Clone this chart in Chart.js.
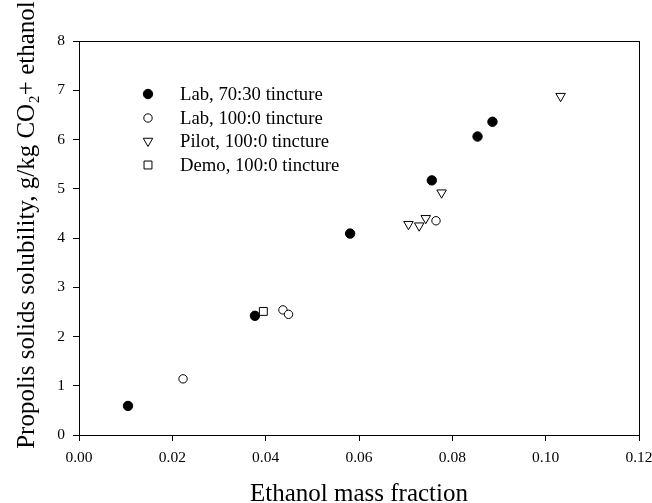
<!DOCTYPE html>
<html>
<head>
<meta charset="utf-8">
<script src="https://cdn.jsdelivr.net/npm/chart.js@4/dist/chart.umd.min.js"></script>
<style>
  html, body { margin: 0; padding: 0; background: #fff; }
  canvas { display: block; }
</style>
</head>
<body>
<canvas id="chart" width="652" height="503"></canvas>
<script>
'use strict';

// values
var lab7030X = [0.0105, 0.0377, 0.0581, 0.0756, 0.0854, 0.0886];
var lab7030Y = [0.59, 2.42, 4.09, 5.17, 6.06, 6.36];

var lab1000X = [0.0223, 0.0437, 0.0449, 0.0765];
var lab1000Y = [1.14, 2.54, 2.45, 4.35];

var pilotX = [0.0706, 0.0729, 0.0743, 0.0777, 0.1032];
var pilotY = [4.28, 4.25, 4.40, 4.92, 6.88];

var demoX = [0.0395];
var demoY = [2.51];

var seriesNames = ['Lab, 70:30 tincture', 'Lab, 100:0 tincture', 'Pilot, 100:0 tincture', 'Demo, 100:0 tincture'];

var xTitle = 'Ethanol mass fraction';
var yTitle = 'Propolis solids solubility, g/kg CO\u2082+ ethanol';

var SERIF = '"Liberation Serif", "Times New Roman", serif';

function toPoints(xs, ys) {
  var pts = [];
  for (var i = 0; i < xs.length; i++) {
    pts.push({x: xs[i], y: ys[i]});
  }
  return pts;
}

var datasets = [
  {label: seriesNames[0], data: toPoints(lab7030X, lab7030Y), pointStyle: 'circle', pointRadius: 4.7,
   backgroundColor: '#000', borderColor: '#000', pointBorderWidth: 1, order: 3},
  {label: seriesNames[1], data: toPoints(lab1000X, lab1000Y), pointStyle: 'circle', pointRadius: 4.2,
   backgroundColor: '#fff', borderColor: '#000', pointBorderWidth: 1, order: 2},
  {label: seriesNames[2], data: toPoints(pilotX, pilotY), pointStyle: 'triangle', pointRotation: 180, pointRadius: 5.5,
   backgroundColor: '#fff', borderColor: '#000', pointBorderWidth: 1, order: 1},
  {label: seriesNames[3], data: toPoints(demoX, demoY), pointStyle: 'rect', pointRadius: 5.6,
   backgroundColor: '#fff', borderColor: '#000', pointBorderWidth: 1, order: 0}
];

// frame, axis titles and the in-plot legend
var decorPlugin = {
  id: 'decor',
  afterDraw: function(chart) {
    var ctx = chart.ctx;
    var area = chart.chartArea;
    ctx.save();

    // box round the plot
    ctx.strokeStyle = '#000';
    ctx.lineWidth = 1;
    ctx.strokeRect(Math.round(area.left) + 0.5, Math.round(area.top) + 0.5,
      Math.round(area.right - area.left), Math.round(area.bottom - area.top));

    ctx.fillStyle = '#000';
    ctx.font = '25px ' + SERIF;
    ctx.textAlign = 'center';
    ctx.textBaseline = 'middle';
    ctx.fillText(xTitle, (area.left + area.right) / 2, 494);

    ctx.save();
    ctx.translate(27, 225);
    ctx.rotate(-Math.PI / 2);
    ctx.fillText(yTitle, 0, 0);
    ctx.restore();

    // legend
    var rowY = [94, 118, 141, 165];
    ctx.font = '18.7px ' + SERIF;
    ctx.textAlign = 'left';
    for (var i = 0; i < chart.data.datasets.length; i++) {
      var ds = chart.data.datasets[i];
      ctx.fillStyle = ds.backgroundColor;
      ctx.strokeStyle = ds.borderColor;
      ctx.lineWidth = 1;
      Chart.helpers.drawPoint(ctx, {
        pointStyle: ds.pointStyle,
        rotation: ds.pointRotation || 0,
        radius: ds.pointRadius,
        borderWidth: 1
      }, 148, rowY[i]);
      ctx.fillStyle = '#000';
      ctx.fillText(ds.label, 180, rowY[i] + 1);
    }
    ctx.restore();
  }
};

var ctx = document.getElementById('chart').getContext('2d');

var myChart = new Chart(ctx, {
  type: 'scatter',
  data: {datasets: datasets},
  plugins: [decorPlugin],
  options: {
    responsive: false,
    animation: false,
    devicePixelRatio: 1,
    layout: {padding: {top: 41, right: 13, left: 0, bottom: 0}},
    plugins: {
      legend: {display: false},
      tooltip: {enabled: false}
    },
    scales: {
      x: {
        type: 'linear',
        min: 0,
        max: 0.12,
        afterFit: function(scale) {
          scale.height = 68;
          scale.paddingLeft = 0;
          scale.paddingRight = 0;
        },
        ticks: {
          stepSize: 0.02,
          color: '#000',
          padding: 8,
          maxRotation: 0,
          font: {family: SERIF, size: 15.5},
          callback: function(v) { return v.toFixed(2); }
        },
        grid: {drawOnChartArea: false, drawTicks: true, tickLength: 6, color: '#000'},
        border: {display: true, color: '#000'}
      },
      y: {
        type: 'linear',
        min: 0,
        max: 8,
        afterFit: function(scale) {
          scale.width = 79;
          scale.paddingTop = 0;
          scale.paddingBottom = 0;
        },
        ticks: {
          stepSize: 1,
          color: '#000',
          padding: 8,
          font: {family: SERIF, size: 15.5}
        },
        grid: {drawOnChartArea: false, drawTicks: true, tickLength: 6, color: '#000'},
        border: {display: true, color: '#000'}
      }
    }
  }
});
</script>
</body>
</html>
